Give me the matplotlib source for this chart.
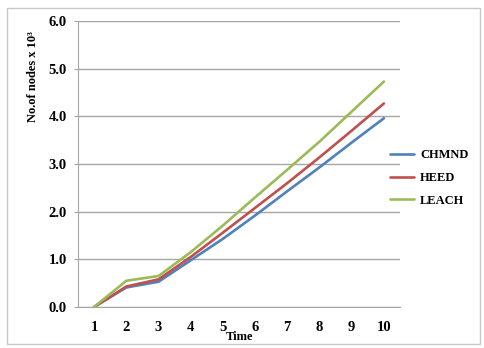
import matplotlib
matplotlib.use("Agg")
import matplotlib.pyplot as plt
from matplotlib.patches import Rectangle

categories = [1, 2, 3, 4, 5, 6, 7, 8, 9, 10]
chmnd = [0.0, 0.41, 0.53, 0.98, 1.43, 1.92, 2.43, 2.93, 3.45, 3.96]
heed = [0.0, 0.43, 0.58, 1.05, 1.56, 2.08, 2.60, 3.14, 3.70, 4.27]
leach = [0.0, 0.55, 0.65, 1.15, 1.71, 2.30, 2.88, 3.47, 4.10, 4.73]
series_names = ["CHMND", "HEED", "LEACH"]
colors = ["#4F81BD", "#C0504D", "#9BBB59"]
yticks = [0.0, 1.0, 2.0, 3.0, 4.0, 5.0, 6.0]

W, H = 484, 348
fig = plt.figure(figsize=(W / 100, H / 100), dpi=100)
fig.patch.set_facecolor("white")
fig.patches.append(Rectangle((7 / W, 1 - 344 / H), (480 - 7) / W, (344 - 8) / H,
                             transform=fig.transFigure, fill=False,
                             edgecolor="#c8c8c8", linewidth=1.0))

left, right, top, bottom = 78, 400, 21, 307
ax = fig.add_axes([left / W, 1 - bottom / H, (right - left) / W, (bottom - top) / H])

font = dict(family="Liberation Serif", weight="bold", size=9)
tickfont = dict(family="Liberation Serif", weight="bold", size=10.5)

xs = list(range(len(categories)))
for vals, name, c in zip([chmnd, heed, leach], series_names, colors):
    ax.plot(xs, vals, color=c, linewidth=1.9, label=name, solid_capstyle="round")

ax.set_xlim(-0.5, len(categories) - 0.5)
ax.set_ylim(0, 6)
ax.set_yticks(yticks)
ax.set_yticklabels([f"{v:.1f}" for v in yticks], **tickfont)
ax.set_xticks(xs)
ax.set_xticklabels([str(c) for c in categories], **tickfont)
ax.grid(axis="y", color="#a6a6a6", linewidth=1.0)
ax.set_axisbelow(True)
for s in ["top", "right"]:
    ax.spines[s].set_visible(False)
for s in ["left", "bottom"]:
    ax.spines[s].set_color("#a6a6a6")
ax.tick_params(axis="y", length=3, color="#a6a6a6", pad=5)
ax.tick_params(axis="x", length=0, pad=10)

fig.text(240 / W, 1 - 337 / H, "Time", ha="center", va="center", **font)
fig.text(33 / W, 1 - 77 / H, "No.of nodes x 10³", ha="center", va="center",
         rotation=90, **font)

leg = fig.legend(loc="upper left", bbox_to_anchor=(379 / W, 1 - 138 / H),
                 frameon=False, prop=dict(family="Liberation Serif", weight="bold", size=9),
                 handlelength=1.9, handletextpad=0.5, labelspacing=0.85)

fig.savefig("out.png", dpi=100)
